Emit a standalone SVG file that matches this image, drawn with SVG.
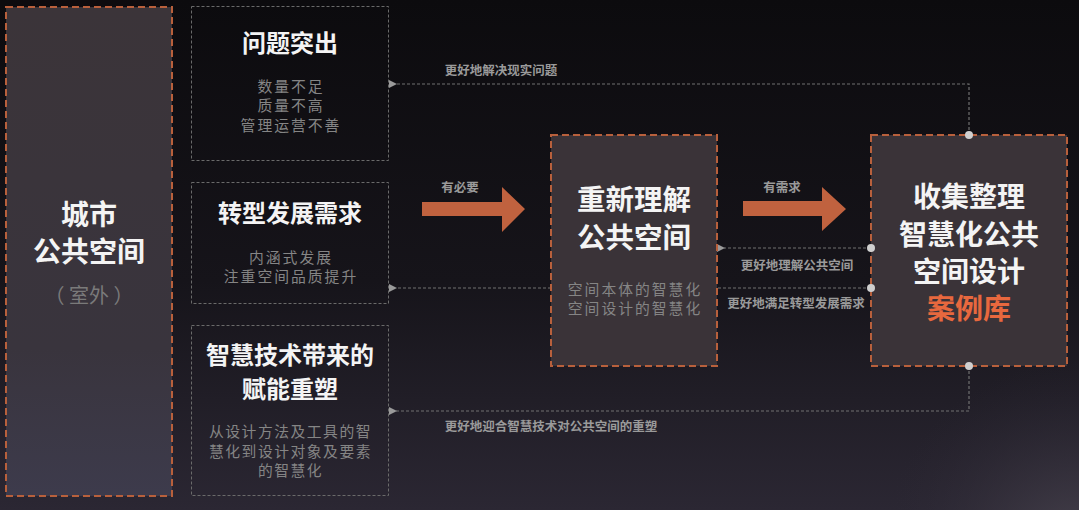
<svg xmlns="http://www.w3.org/2000/svg" width="1079" height="510" viewBox="0 0 1079 510">
<defs>
<linearGradient id="bg" x1="0" y1="0" x2="0" y2="1">
<stop offset="0" stop-color="#0c0b0e"/>
<stop offset="0.55" stop-color="#16141a"/>
<stop offset="1" stop-color="#2b2733"/>
</linearGradient>
<linearGradient id="lf" x1="0" y1="0" x2="0" y2="1">
<stop offset="0" stop-color="#3b3439"/>
<stop offset="0.7" stop-color="#39343d"/>
<stop offset="1" stop-color="#3d3b4c"/>
</linearGradient>
<radialGradient id="planet" cx="1079" cy="560" r="200" gradientUnits="userSpaceOnUse">
<stop offset="0" stop-color="#4a4550"/>
<stop offset="1" stop-color="#2b2733" stop-opacity="0"/>
</radialGradient>
<marker id="ah" viewBox="0 0 8 8" refX="1" refY="4" markerWidth="8" markerHeight="8" orient="auto-start-reverse" markerUnits="userSpaceOnUse">
<path d="M8,0 L0,4 L8,8 Z" fill="#9a9a9a"/>
</marker>
</defs>
<style>
.orange{fill:url(#lf);stroke:#b8603c;stroke-width:2;stroke-dasharray:7 4}
.mid{fill:#3a3338;stroke:#b8603c;stroke-width:2;stroke-dasharray:7 4}
.gray{fill:none;stroke:#6a6a6a;stroke-width:1;stroke-dasharray:3 2}
.conn{fill:none;stroke:#707070;stroke-width:1.2;stroke-dasharray:3 2}
.t{font-family:"Noto Sans CJK SC","Noto Sans",sans-serif;text-anchor:middle}
.h{fill:#f4f4f4;font-weight:700}
.s{fill:#858585;font-size:14.8px;letter-spacing:2px}
.l{fill:#9a9a9a;font-size:12.5px;font-weight:700}
.dot{fill:#cfcfcf}
.arrow{fill:#c0623f}
</style>
<rect width="1079" height="510" fill="url(#bg)"/>
<rect width="1079" height="510" fill="url(#planet)"/>

<g id="connectors">
<polyline class="conn" points="969,135 969,84 396,84" marker-end="url(#ah)"/>
<line class="conn" x1="871" y1="248" x2="724" y2="248" marker-end="url(#ah)"/>
<line class="conn" x1="871" y1="288" x2="396" y2="288" marker-end="url(#ah)"/>
<polyline class="conn" points="969,366 969,411 396,411" marker-end="url(#ah)"/>
<path class="arrow" d="M422,202 H502 V187 L525,209 L502,232 V216 H422 Z"/>
<path class="arrow" d="M743,201 H822 V187 L846,209 L822,231 V216 H743 Z"/>
<text class="t l" x="501" y="75">更好地解决现实问题</text>
<text class="t l" x="460" y="192">有必要</text>
<text class="t l" x="782" y="192">有需求</text>
<text class="t l" x="797" y="270">更好地理解公共空间</text>
<text class="t l" x="796" y="308">更好地满足转型发展需求</text>
<text class="t l" x="551" y="431">更好地迎合智慧技术对公共空间的重塑</text>
</g>

<g id="city">
<rect class="orange" x="6" y="7" width="166" height="489"/>
<text class="t h" font-size="28"><tspan x="89" y="225">城市</tspan><tspan x="89" y="262">公共空间</tspan></text>
<text class="t" x="89" y="303" font-size="20" fill="#7a7a7a">（ 室外 ）</text>
</g>

<g id="problem">
<rect class="gray" x="191.5" y="6.5" width="197" height="154"/>
<text class="t h" x="290" y="52" font-size="24">问题突出</text>
<text class="t s"><tspan x="291" y="91.5">数量不足</tspan><tspan x="291" y="111">质量不高</tspan><tspan x="291" y="130.5">管理运营不善</tspan></text>
</g>

<g id="transform">
<rect class="gray" x="191.5" y="182.5" width="197" height="121"/>
<text class="t h" x="290" y="222" font-size="24">转型发展需求</text>
<text class="t s"><tspan x="291" y="262.5">内涵式发展</tspan><tspan x="291" y="282">注重空间品质提升</tspan></text>
</g>

<g id="smarttech">
<rect class="gray" x="191.5" y="325.5" width="197" height="170"/>
<text class="t h" font-size="24"><tspan x="290" y="364">智慧技术带来的</tspan><tspan x="290" y="398">赋能重塑</tspan></text>
<text class="t s" style="letter-spacing:1.5px"><tspan x="290.5" y="437">从设计方法及工具的智</tspan><tspan x="290.5" y="456.5">慧化到设计对象及要素</tspan><tspan x="290.5" y="476">的智慧化</tspan></text>
</g>

<g id="rethink">
<rect class="mid" x="551" y="135" width="166" height="231"/>
<text class="t h" font-size="28.5"><tspan x="634" y="210">重新理解</tspan><tspan x="634" y="248">公共空间</tspan></text>
<text class="t s"><tspan x="635" y="294.5">空间本体的智慧化</tspan><tspan x="635" y="314">空间设计的智慧化</tspan></text>
</g>

<g id="caselib">
<rect class="mid" x="871" y="135" width="196" height="231"/>
<text class="t h" font-size="28"><tspan x="969" y="207">收集整理</tspan><tspan x="969" y="245">智慧化公共</tspan><tspan x="969" y="282">空间设计</tspan></text>
<text class="t" x="969" y="319" font-size="28" font-weight="700" fill="#e8683e">案例库</text>
<circle class="dot" cx="969" cy="135" r="4"/>
<circle class="dot" cx="871" cy="248" r="4"/>
<circle class="dot" cx="871" cy="288" r="4"/>
<circle class="dot" cx="969" cy="366" r="4"/>
</g>
</svg>
